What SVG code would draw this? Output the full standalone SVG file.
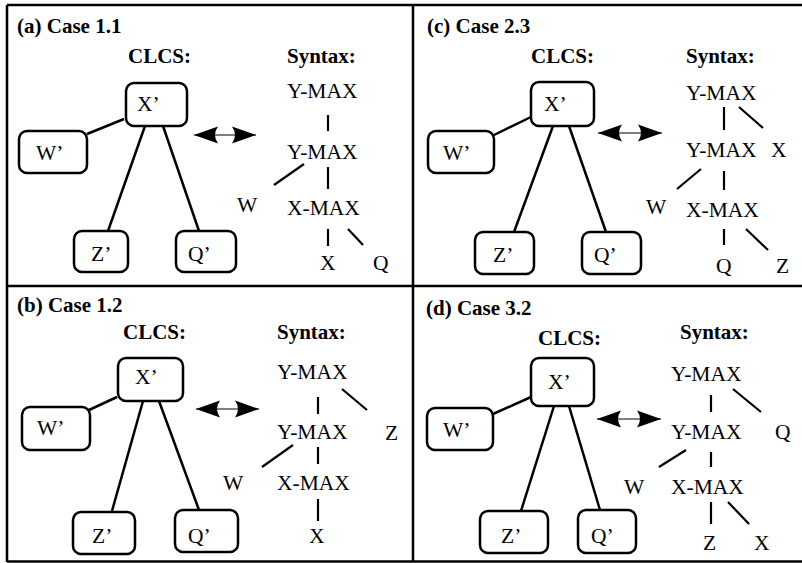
<svg xmlns="http://www.w3.org/2000/svg" width="802" height="563" viewBox="0 0 802 563">
<style>
.frame{stroke:#000;stroke-width:2.5;fill:none}
.box{fill:#fff;stroke:#000;stroke-width:2.5}
.edge{stroke:#000;stroke-width:2.5;fill:none}
.syn{stroke:#000;stroke-width:2.2;fill:none}
.dbl{stroke:#000;stroke-width:1.2;fill:none;marker-start:url(#ah);marker-end:url(#ah)}
text{fill:#000;font-family:"Liberation Serif","Times New Roman",serif}
.t{font-size:21.5px}
.h{font-size:21px;font-weight:bold}
</style>
<defs>
<marker id="ah" viewBox="0 0 24 18" refX="24" refY="9" markerWidth="24" markerHeight="18" markerUnits="userSpaceOnUse" orient="auto-start-reverse">
<path d="M24,9 L0,0.5 Q6,9 0,17.5 Z" fill="#000"/>
</marker>
</defs>
<rect width="802" height="563" fill="#fff"/>
<g id="frame">
<path class="frame" d="M7,5 H802 M7,5 V562 M7,561.5 H802 M413,5 V562 M7,286 H802"/>
</g>

<g id="connectors">
<line class="edge" x1="124" y1="119" x2="87" y2="134"/>
<line class="edge" x1="145" y1="126" x2="108" y2="231"/>
<line class="edge" x1="163" y1="126" x2="199" y2="231"/>
<line class="dbl" x1="194" y1="135" x2="256" y2="135"/>
<line class="syn" x1="328" y1="115" x2="328" y2="131"/>
<line class="syn" x1="328" y1="167" x2="328" y2="189"/>
<line class="syn" x1="304" y1="164" x2="274" y2="185"/>
<line class="syn" x1="328" y1="229" x2="328" y2="246"/>
<line class="syn" x1="348" y1="229" x2="363" y2="245"/>
<line class="edge" x1="531" y1="117" x2="494" y2="135"/>
<line class="edge" x1="553" y1="126" x2="514" y2="232"/>
<line class="edge" x1="569" y1="126" x2="606" y2="232"/>
<line class="dbl" x1="598" y1="133" x2="662" y2="133"/>
<line class="syn" x1="724" y1="107" x2="724" y2="130"/>
<line class="syn" x1="739" y1="107" x2="763" y2="128"/>
<line class="syn" x1="724" y1="171" x2="724" y2="190"/>
<line class="syn" x1="701" y1="169" x2="677" y2="189"/>
<line class="syn" x1="724" y1="229" x2="724" y2="245"/>
<line class="syn" x1="746" y1="229" x2="768" y2="250"/>
<line class="edge" x1="117" y1="397" x2="89" y2="410"/>
<line class="edge" x1="143" y1="401" x2="112" y2="511"/>
<line class="edge" x1="159" y1="401" x2="199" y2="510"/>
<line class="dbl" x1="196" y1="409" x2="259" y2="409"/>
<line class="syn" x1="318" y1="397" x2="318" y2="414"/>
<line class="syn" x1="342" y1="389" x2="367" y2="410"/>
<line class="syn" x1="318" y1="447" x2="318" y2="464"/>
<line class="syn" x1="293" y1="445" x2="262" y2="467"/>
<line class="syn" x1="318" y1="499" x2="318" y2="521"/>
<line class="edge" x1="531" y1="397" x2="493" y2="414"/>
<line class="edge" x1="554" y1="406" x2="521" y2="511"/>
<line class="edge" x1="569" y1="406" x2="600" y2="510"/>
<line class="dbl" x1="597" y1="419" x2="661" y2="419"/>
<line class="syn" x1="711" y1="395" x2="711" y2="412"/>
<line class="syn" x1="733" y1="389" x2="761" y2="412"/>
<line class="syn" x1="711" y1="452" x2="711" y2="467"/>
<line class="syn" x1="686" y1="450" x2="659" y2="467"/>
<line class="syn" x1="711" y1="502" x2="711" y2="524"/>
<line class="syn" x1="728" y1="502" x2="749" y2="524"/>
</g>

<g id="panel-a">
<text class="h" x="17" y="33">(a) Case 1.1</text>
<text class="h" x="128" y="63">CLCS:</text>
<text class="h" x="287" y="63">Syntax:</text>
<g id="a-X"><rect class="box" x="126" y="83" width="61" height="43" rx="8"/><text class="t" x="137" y="111">X’</text></g>
<g id="a-W"><rect class="box" x="19" y="131" width="68" height="42" rx="8"/><text class="t" x="36" y="160">W’</text></g>
<g id="a-Z"><rect class="box" x="74" y="231" width="54" height="41" rx="8"/><text class="t" x="91" y="261">Z’</text></g>
<g id="a-Q"><rect class="box" x="176" y="231" width="60" height="41" rx="8"/><text class="t" x="188" y="261">Q’</text></g>
<g id="a-s1"><text class="t" x="287" y="98">Y-MAX</text></g>
<g id="a-s2"><text class="t" x="287" y="159">Y-MAX</text></g>
<g id="a-s3"><text class="t" x="287" y="215">X-MAX</text></g>
<g id="a-sW"><text class="t" x="237" y="212">W</text></g>
<g id="a-sX"><text class="t" x="320" y="270">X</text></g>
<g id="a-sQ"><text class="t" x="373" y="270">Q</text></g>
</g>

<g id="panel-c">
<text class="h" x="427" y="33">(c) Case 2.3</text>
<text class="h" x="531" y="63">CLCS:</text>
<text class="h" x="686" y="63">Syntax:</text>
<g id="c-X"><rect class="box" x="531" y="82" width="63" height="44" rx="8"/><text class="t" x="544" y="111">X’</text></g>
<g id="c-W"><rect class="box" x="428" y="131" width="66" height="42" rx="8"/><text class="t" x="443" y="160">W’</text></g>
<g id="c-Z"><rect class="box" x="475" y="232" width="59" height="42" rx="8"/><text class="t" x="493" y="262">Z’</text></g>
<g id="c-Q"><rect class="box" x="582" y="232" width="59" height="42" rx="8"/><text class="t" x="594" y="262">Q’</text></g>
<g id="c-s1"><text class="t" x="686" y="100">Y-MAX</text></g>
<g id="c-s2"><text class="t" x="686" y="157">Y-MAX</text></g>
<g id="c-sX"><text class="t" x="771" y="157">X</text></g>
<g id="c-s3"><text class="t" x="686" y="217">X-MAX</text></g>
<g id="c-sW"><text class="t" x="646" y="214">W</text></g>
<g id="c-sQ"><text class="t" x="716" y="273">Q</text></g>
<g id="c-sZ"><text class="t" x="776" y="273">Z</text></g>
</g>

<g id="panel-b">
<text class="h" x="17" y="312">(b) Case 1.2</text>
<text class="h" x="123" y="339">CLCS:</text>
<text class="h" x="277" y="339">Syntax:</text>
<g id="b-X"><rect class="box" x="118" y="358" width="65" height="43" rx="8"/><text class="t" x="135" y="384">X’</text></g>
<g id="b-W"><rect class="box" x="22" y="407" width="68" height="43" rx="8"/><text class="t" x="37" y="435">W’</text></g>
<g id="b-Z"><rect class="box" x="73" y="512" width="62" height="42" rx="8"/><text class="t" x="92" y="543">Z’</text></g>
<g id="b-Q"><rect class="box" x="175" y="510" width="63" height="42" rx="8"/><text class="t" x="188" y="543">Q’</text></g>
<g id="b-s1"><text class="t" x="277" y="379">Y-MAX</text></g>
<g id="b-s2"><text class="t" x="277" y="439">Y-MAX</text></g>
<g id="b-s3"><text class="t" x="277" y="490">X-MAX</text></g>
<g id="b-sW"><text class="t" x="223" y="490">W</text></g>
<g id="b-sZ"><text class="t" x="385" y="440">Z</text></g>
<g id="b-sX"><text class="t" x="309" y="543">X</text></g>
</g>

<g id="panel-d">
<text class="h" x="426" y="315">(d) Case 3.2</text>
<text class="h" x="538" y="345">CLCS:</text>
<text class="h" x="680" y="339">Syntax:</text>
<g id="d-X"><rect class="box" x="531" y="358" width="63" height="48" rx="8"/><text class="t" x="548" y="389">X’</text></g>
<g id="d-W"><rect class="box" x="427" y="408" width="66" height="42" rx="8"/><text class="t" x="443" y="437">W’</text></g>
<g id="d-Z"><rect class="box" x="480" y="511" width="68" height="42" rx="8"/><text class="t" x="501" y="543">Z’</text></g>
<g id="d-Q"><rect class="box" x="578" y="510" width="58" height="43" rx="8"/><text class="t" x="591" y="543">Q’</text></g>
<g id="d-s1"><text class="t" x="671" y="381">Y-MAX</text></g>
<g id="d-s2"><text class="t" x="671" y="439">Y-MAX</text></g>
<g id="d-sQ"><text class="t" x="775" y="439">Q</text></g>
<g id="d-s3"><text class="t" x="671" y="494">X-MAX</text></g>
<g id="d-sW"><text class="t" x="624" y="494">W</text></g>
<g id="d-sZ"><text class="t" x="703" y="550">Z</text></g>
<g id="d-sX"><text class="t" x="754" y="550">X</text></g>
</g>
</svg>
